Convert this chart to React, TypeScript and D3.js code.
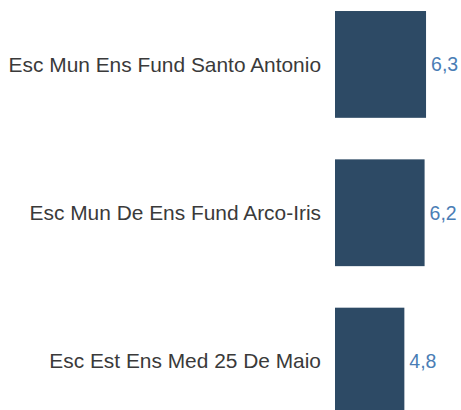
import React from "react";
import * as d3 from "d3";

const categories = [
  "Esc Mun Ens Fund Santo Antonio",
  "Esc Mun De Ens Fund Arco-Iris",
  "Esc Est Ens Med 25 De Maio",
];
const values = [6.3, 6.2, 4.8];
const valueLabels = ["6,3", "6,2", "4,8"];

export default function App() {
  const width = 461;
  const height = 410;
  const x0 = 335;
  const x = d3.scaleLinear().domain([0, 7]).range([x0, x0 + 7 * 14.45]);
  const y = d3
    .scaleBand<string>()
    .domain(categories)
    .range([-9.75, 435.25])
    .paddingInner(0.28)
    .paddingOuter(0.14);

  return (
    <svg
      width={width}
      height={height}
      style={{ position: "absolute", left: 0, top: 0, background: "#fff" }}
      fontFamily="'Liberation Sans', Arial, sans-serif"
    >
      {categories.map((c, i) => {
        const yc = (y(c) ?? 0) + y.bandwidth() / 2;
        return (
          <g key={c}>
            <rect
              x={x(0)}
              y={y(c)}
              width={x(values[i]) - x(0)}
              height={y.bandwidth()}
              fill="#2d4a65"
            />
            <text
              x={x(0) - 14}
              y={yc}
              dy="0.35em"
              textAnchor="end"
              fontSize={20.9}
              fill="#3a3a3a"
            >
              {c}
            </text>
            <text
              x={x(values[i]) + 5}
              y={yc}
              dy="0.35em"
              textAnchor="start"
              fontSize={19.5}
              fill="#4a7db5"
            >
              {valueLabels[i]}
            </text>
          </g>
        );
      })}
    </svg>
  );
}
